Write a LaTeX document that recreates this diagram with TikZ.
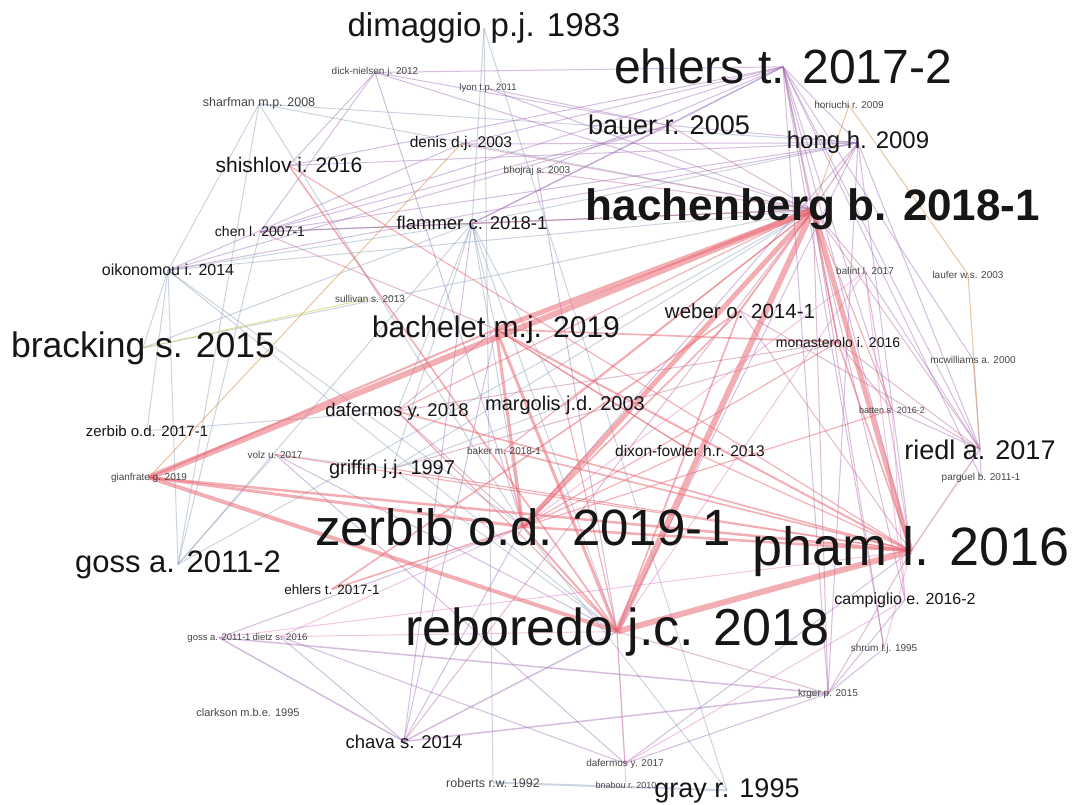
\documentclass[tikz,border=0pt]{standalone}
\usepackage{fontspec}
\setmainfont{Liberation Sans}
\usetikzlibrary{backgrounds}
\definecolor{txt}{RGB}{22,22,22}
\definecolor{stxt}{RGB}{70,70,70}
\definecolor{cR}{RGB}{232,100,112}
\definecolor{cP}{RGB}{160,110,185}
\definecolor{cG}{RGB}{140,160,185}
\definecolor{cM}{RGB}{185,105,150}
\definecolor{cK}{RGB}{225,140,200}
\definecolor{cO}{RGB}{215,150,80}
\definecolor{cY}{RGB}{200,215,80}
\begin{document}
\begin{tikzpicture}[x=1pt,y=-1pt,
 lb/.style={anchor=base, inner sep=0pt, text=txt, font=\fontsize{#1}{#1}\selectfont},
 lbb/.style={anchor=base, inner sep=0pt, text=txt, font=\fontsize{#1}{#1}\selectfont\bfseries},
 sl/.style={anchor=base, inner sep=0pt, text=stxt, font=\fontsize{#1}{#1}\selectfont},
 eR/.style={draw=cR, line width=#1, draw opacity=.52}, eR/.default=1,
 eP/.style={draw=cP, line width=#1, draw opacity=.45}, eP/.default=1,
 eG/.style={draw=cG, line width=#1, draw opacity=.45}, eG/.default=1,
 eM/.style={draw=cM, line width=#1, draw opacity=.45}, eM/.default=1,
 eK/.style={draw=cK, line width=#1, draw opacity=.5}, eK/.default=1,
 eO/.style={draw=cO, line width=#1, draw opacity=.55}, eO/.default=1,
 eY/.style={draw=cY, line width=#1, draw opacity=.6}, eY/.default=1]
\useasboundingbox (0,0) rectangle (1082,805);
% nodes
\node[lb=33] (dim) at (484,37) {dimaggio p.j. 1983};
\node[lb=48] (ehlB) at (783,84) {ehlers t. 2017-2};
\node[sl=10] (dick) at (375,75) {dick-nielsen j. 2012};
\node[sl=9.5] (lyon) at (488,91) {lyon t.p. 2011};
\node[sl=10] (hori) at (849,109) {horiuchi r. 2009};
\node[sl=12.5] (sharf) at (259,107) {sharfman m.p. 2008};
\node[lb=27] (bauer) at (669,135) {bauer r. 2005};
\node[lb=15.5] (denis) at (461,148) {denis d.j. 2003};
\node[lb=24] (hong) at (858,149) {hong h. 2009};
\node[lb=21] (shish) at (289,173) {shishlov i. 2016};
\node[sl=10] (bhoj) at (537,174) {bhojraj s. 2003};
\node[lbb=44] (hach) at (813,221) {hachenberg b. 2018-1};
\node[lb=14] (chen) at (260,237) {chen l. 2007-1};
\node[lb=18.5] (flam) at (472,230) {flammer c. 2018-1};
\node[lb=16] (oik) at (168,276) {oikonomou i. 2014};
\node[sl=10] (bal) at (865,275) {balint l. 2017};
\node[sl=10] (lauf) at (968,278) {laufer w.s. 2003};
\node[sl=10] (sull) at (370,302) {sullivan s. 2013};
\node[lb=20.5] (weber) at (740,318) {weber o. 2014-1};
\node[lb=30] (bach) at (496,337) {bachelet m.j. 2019};
\node[lb=35.5] (brack) at (143,357) {bracking s. 2015};
\node[lb=14] (mona) at (838,347) {monasterolo i. 2016};
\node[sl=10] (mcw) at (973,363) {mcwilliams a. 2000};
\node[lb=18.5] (dafA) at (397,416) {dafermos y. 2018};
\node[lb=20] (marg) at (565,410) {margolis j.d. 2003};
\node[sl=9] (batt) at (892,413) {batten s. 2016-2};
\node[lb=15] (zerA) at (147,436) {zerbib o.d. 2017-1};
\node[lb=27] (riedl) at (980,459) {riedl a. 2017};
\node[sl=10] (volz) at (275,458) {volz u. 2017};
\node[sl=10] (baker) at (504,454) {baker m. 2018-1};
\node[lb=15.5] (dixon) at (690,456) {dixon-fowler h.r. 2013};
\node[lb=20] (griff) at (392,474) {griffin j.j. 1997};
\node[sl=10] (gian) at (149,480) {gianfrate g. 2019};
\node[sl=10] (parg) at (981,480) {parguel b. 2011-1};
\node[lb=51] (zerB) at (523,545) {zerbib o.d. 2019-1};
\node[lb=54] (pham) at (911,565) {pham l. 2016};
\node[lb=31] (gossB) at (178,572) {goss a. 2011-2};
\node[lb=13.5] (ehlA) at (332,594) {ehlers t. 2017-1};
\node[lb=16] (camp) at (905,604) {campiglio e. 2016-2};
\node[lb=52] (rebo) at (617,645) {reboredo j.c. 2018};
\node[sl=9.5] (gossA) at (219,640) {goss a. 2011-1};
\node[sl=9.5] (dietz) at (280,640) {dietz s. 2016};
\node[sl=10] (shrum) at (884,651) {shrum l.j. 1995};
\node[sl=10] (krger) at (828,696) {krger p. 2015};
\node[sl=11] (clark) at (248,716) {clarkson m.b.e. 1995};
\node[lb=18.5] (chava) at (404,748) {chava s. 2014};
\node[sl=10] (dafB) at (625,766) {dafermos y. 2017};
\node[sl=9] (bnab) at (626,788) {bnabou r. 2010};
\node[sl=12.5] (rob) at (493,787) {roberts r.w. 1992};
\node[lb=27] (gray) at (727,797) {gray r. 1995};
% edges
\begin{scope}[on background layer]
\fill[white] (0,0) rectangle (1082,805);
% gray-blue
\foreach \a/\b in {dim/rob,dim/gray,sharf/oik,sharf/gossB,sharf/hach,sharf/hong,sharf/zerB,oik/gossB,oik/hach,oik/brack,oik/flam,oik/zerB,oik/rebo,oik/zerA,chen/flam,chen/hach,gossB/flam,gossB/chen,flam/dim,flam/zerB,flam/rebo,flam/marg,flam/griff,flam/bach,flam/hong,griff/marg,griff/rebo,griff/hach,dafA/flam,brack/flam,gray/zerB,volz/gossB,volz/griff,zerA/dafA,brack/hach,gossB/hach}
  \draw[eG] (\a.center) -- (\b.center);
\draw[eG=2] (rob.center) -- (gray.center);
% purple
\foreach \a/\b in {ehlB/dick,ehlB/bauer,dick/bauer,ehlB/hong,ehlB/riedl,ehlB/krger,ehlB/parg,ehlB/shrum,ehlB/denis,ehlB/bhoj,ehlB/flam,ehlB/chen,ehlB/shish,ehlB/mona,ehlB/pham,ehlB/batt,ehlB/mcw,hong/riedl,hong/krger,hong/bauer,hong/chen,hong/oik,hong/shish,hong/rebo,hong/pham,hong/zerB,dick/chen,dick/hach,dick/zerB,lyon/bauer,lyon/hach,bauer/chen,bauer/flam,bauer/oik,denis/oik,denis/hong,bhoj/rebo,dietz/chava,chava/zerB,chava/flam,chava/bach,dafB/dietz,dafB/pham,dafB/krger,shrum/krger,krger/camp,riedl/parg,riedl/mcw,riedl/bal,riedl/batt,volz/dafB,volz/rebo,zerB/gossA,dick/shish}
  \draw[eP] (\a.center) -- (\b.center);
\foreach \a/\b in {gossA/krger,gossA/chava,chava/krger,chava/rebo}
  \draw[eP=1.5] (\a.center) -- (\b.center);
% mauve
\foreach \a/\b in {hach/riedl,hach/krger,hach/camp,hach/shrum,hach/bal,hach/chava,hach/flam,hach/chen,hach/denis,hach/bauer,hach/bhoj,rebo/krger,rebo/dafB,pham/krger,pham/bal,zerB/dafA,bach/dafA,bach/chen,weber/riedl,weber/pham,mona/riedl,mona/batt,mona/dafA,mona/griff}
  \draw[eM] (\a.center) -- (\b.center);
\foreach \a/\b in {hach/ehlB,hach/hong,pham/riedl}
  \draw[eM=1.4] (\a.center) -- (\b.center);
% pink
\foreach \a/\b in {bal/camp,bal/rebo,bal/zerB,dafB/camp,shrum/pham,gossA/pham,dietz/rebo,bnab/rebo,batt/camp,dietz/zerB}
  \draw[eK] (\a.center) -- (\b.center);
% orange, yellow
\foreach \a/\b in {hori/lauf,lauf/riedl,denis/gian,hori/hach}
  \draw[eO] (\a.center) -- (\b.center);
\draw[eY] (sull.center) -- (brack.center);
% red
\foreach \a/\b in {hach/dafA,dafA/rebo,batt/hach,batt/zerB,marg/hach,marg/rebo,dixon/bach,dixon/pham,baker/hach,shish/pham,mona/zerB,griff/pham,volz/pham,bach/dixon,zerB/dixon}
  \draw[eR=1.1] (\a.center) -- (\b.center);
\foreach \a/\b in {hach/mona,mona/pham,bach/mona,shish/rebo,baker/zerB,baker/pham,ehlA/weber,ehlA/zerB,weber/rebo,weber/zerB,dafA/pham}
  \draw[eR=1.6] (\a.center) -- (\b.center);
\draw[eR=2] (hach.center) -- (weber.center);
\draw[eR=2] (bach.center) -- (pham.center);
\draw[eR=2] (zerB.center) -- (rebo.center);
\draw[eR=2] (gian.center) -- (bach.center);
\draw[eR=2.5] (gian.center) -- (pham.center);
\draw[eR=2.5] (zerB.center) -- (pham.center);
\draw[eR=3] (gian.center) -- (zerB.center);
\draw[eR=3] (bach.center) -- (zerB.center);
\draw[eR=3] (bach.center) -- (rebo.center);
\draw[eR=4] (gian.center) -- (rebo.center);
\draw[eR=5] (hach.center) -- (bach.center);
\draw[eR=5] (hach.center) -- (zerB.center);
\draw[eR=5] (hach.center) -- (pham.center);
\draw[eR=6] (hach.center) -- (gian.center);
\draw[eR=6] (hach.center) -- (rebo.center);
\draw[eR=6] (rebo.center) -- (pham.center);
\end{scope}
\end{tikzpicture}
\end{document}
